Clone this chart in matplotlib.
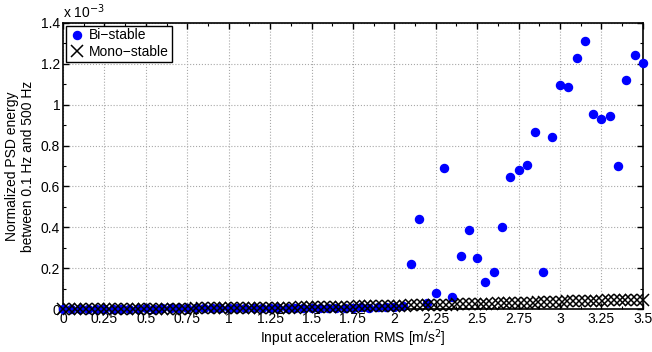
import matplotlib
matplotlib.use('Agg')
import matplotlib.pyplot as plt
from matplotlib.ticker import MultipleLocator, FormatStrFormatter
import numpy as np

plt.rcParams['font.family'] = ['Liberation Sans', 'DejaVu Sans']

# bi-stable: x in m/s^2, energy in units of 1e-3
bi_x = [0.00, 0.05, 0.10, 0.15, 0.20, 0.25, 0.30, 0.35, 0.40, 0.45,
        0.50, 0.55, 0.60, 0.65, 0.70, 0.75, 0.80, 0.85, 0.90, 0.95,
        1.00, 1.05, 1.10, 1.15, 1.20, 1.25, 1.30, 1.35, 1.40, 1.45,
        1.50, 1.55, 1.60, 1.65, 1.70, 1.75, 1.80, 1.85, 1.90, 1.95,
        2.00, 2.05, 2.10, 2.15, 2.20, 2.25, 2.30, 2.35, 2.40, 2.45,
        2.50, 2.55, 2.60, 2.65, 2.70, 2.75, 2.80, 2.85, 2.90, 2.95,
        3.00, 3.05, 3.10, 3.15, 3.20, 3.25, 3.30, 3.35, 3.40, 3.45, 3.50]
bi_e = [0.000, 0.001, 0.001, 0.001, 0.002, 0.001, 0.002, 0.002, 0.002, 0.002,
        0.003, 0.002, 0.003, 0.003, 0.003, 0.003, 0.004, 0.003, 0.004, 0.004,
        0.004, 0.004, 0.005, 0.004, 0.005, 0.005, 0.005, 0.006, 0.005, 0.006,
        0.006, 0.006, 0.007, 0.006, 0.007, 0.007, 0.008, 0.007, 0.008, 0.009,
        0.012, 0.015, 0.218, 0.439, 0.028, 0.080, 0.689, 0.060, 0.260, 0.389,
        0.250, 0.130, 0.180, 0.400, 0.645, 0.680, 0.706, 0.865, 0.180, 0.844,
        1.094, 1.086, 1.228, 1.311, 0.953, 0.928, 0.946, 0.702, 1.120, 1.244, 1.203]

# mono-stable: 101 points from 0 to 3.5, energy in units of 1e-3
mono_x = np.linspace(0, 3.5, 101)
mono_e = [0.000, 0.000, 0.000, 0.000, 0.000, 0.001, 0.001, 0.001, 0.001, 0.001,
          0.001, 0.001, 0.001, 0.001, 0.001, 0.002, 0.002, 0.002, 0.002, 0.002,
          0.002, 0.002, 0.002, 0.003, 0.003, 0.003, 0.003, 0.003, 0.004, 0.004,
          0.004, 0.004, 0.005, 0.005, 0.005, 0.006, 0.006, 0.006, 0.007, 0.007,
          0.007, 0.008, 0.008, 0.009, 0.009, 0.010, 0.010, 0.011, 0.011, 0.012,
          0.012, 0.013, 0.013, 0.014, 0.014, 0.015, 0.015, 0.016, 0.017, 0.017,
          0.018, 0.018, 0.019, 0.020, 0.020, 0.021, 0.022, 0.022, 0.023, 0.024,
          0.024, 0.025, 0.026, 0.026, 0.027, 0.028, 0.029, 0.029, 0.030, 0.031,
          0.032, 0.032, 0.033, 0.034, 0.035, 0.035, 0.036, 0.037, 0.038, 0.038,
          0.039, 0.040, 0.040, 0.041, 0.042, 0.042, 0.043, 0.044, 0.044, 0.045, 0.046]

x_ticks = [0, 0.25, 0.5, 0.75, 1, 1.25, 1.5, 1.75, 2, 2.25, 2.5, 2.75, 3, 3.25, 3.5]
y_ticks = [0, 0.2, 0.4, 0.6, 0.8, 1, 1.2, 1.4]

fig = plt.figure(figsize=(6.52, 3.52), dpi=100)
ax = fig.add_axes([0.0966, 0.122, 0.8894, 0.813])

ax.plot(bi_x, bi_e, 'o', color='#0000ff', markersize=5.8, label='Bi\u2212stable',
        clip_on=False, zorder=3)
ax.plot(mono_x, mono_e, 'x', color='black', markersize=8.5, markeredgewidth=1.1,
        label='Mono\u2212stable', clip_on=False, zorder=4)

ax.set_xlim(0, 3.5)
ax.set_ylim(0, 1.4)
ax.set_xticks(x_ticks)
ax.set_yticks(y_ticks)
ax.xaxis.set_major_formatter(FormatStrFormatter('%g'))
ax.yaxis.set_major_formatter(FormatStrFormatter('%g'))
ax.xaxis.set_minor_locator(MultipleLocator(0.125))
ax.yaxis.set_minor_locator(MultipleLocator(0.1))
ax.tick_params(which='both', direction='in', top=True, right=True, labelsize=10, pad=2)
ax.tick_params(which='major', length=4, width=1)
ax.tick_params(which='minor', length=2.5, width=0.8)
ax.grid(True, which='major', linestyle=':', color='#a8a8a8', linewidth=0.8)
for s in ax.spines.values():
    s.set_linewidth(1.2)

ax.set_xlabel('Input acceleration RMS [m/s$^2$]', fontsize=10, labelpad=1)
ax.set_ylabel('Normalized PSD energy\nbetween 0.1 Hz and 500 Hz', fontsize=10, labelpad=4)
ax.text(0, 1.005, 'x 10$^{-3}$', transform=ax.transAxes, fontsize=10,
        ha='left', va='bottom')

leg = ax.legend(loc='upper left', fontsize=10, frameon=True, fancybox=False,
                borderpad=0.2, handletextpad=0.3, handlelength=1.2,
                labelspacing=0.2, borderaxespad=0.2, markerscale=1.0)
leg.get_frame().set_edgecolor('black')
leg.get_frame().set_linewidth(1)
leg.get_frame().set_alpha(1)

fig.savefig('out.png', dpi=100)
